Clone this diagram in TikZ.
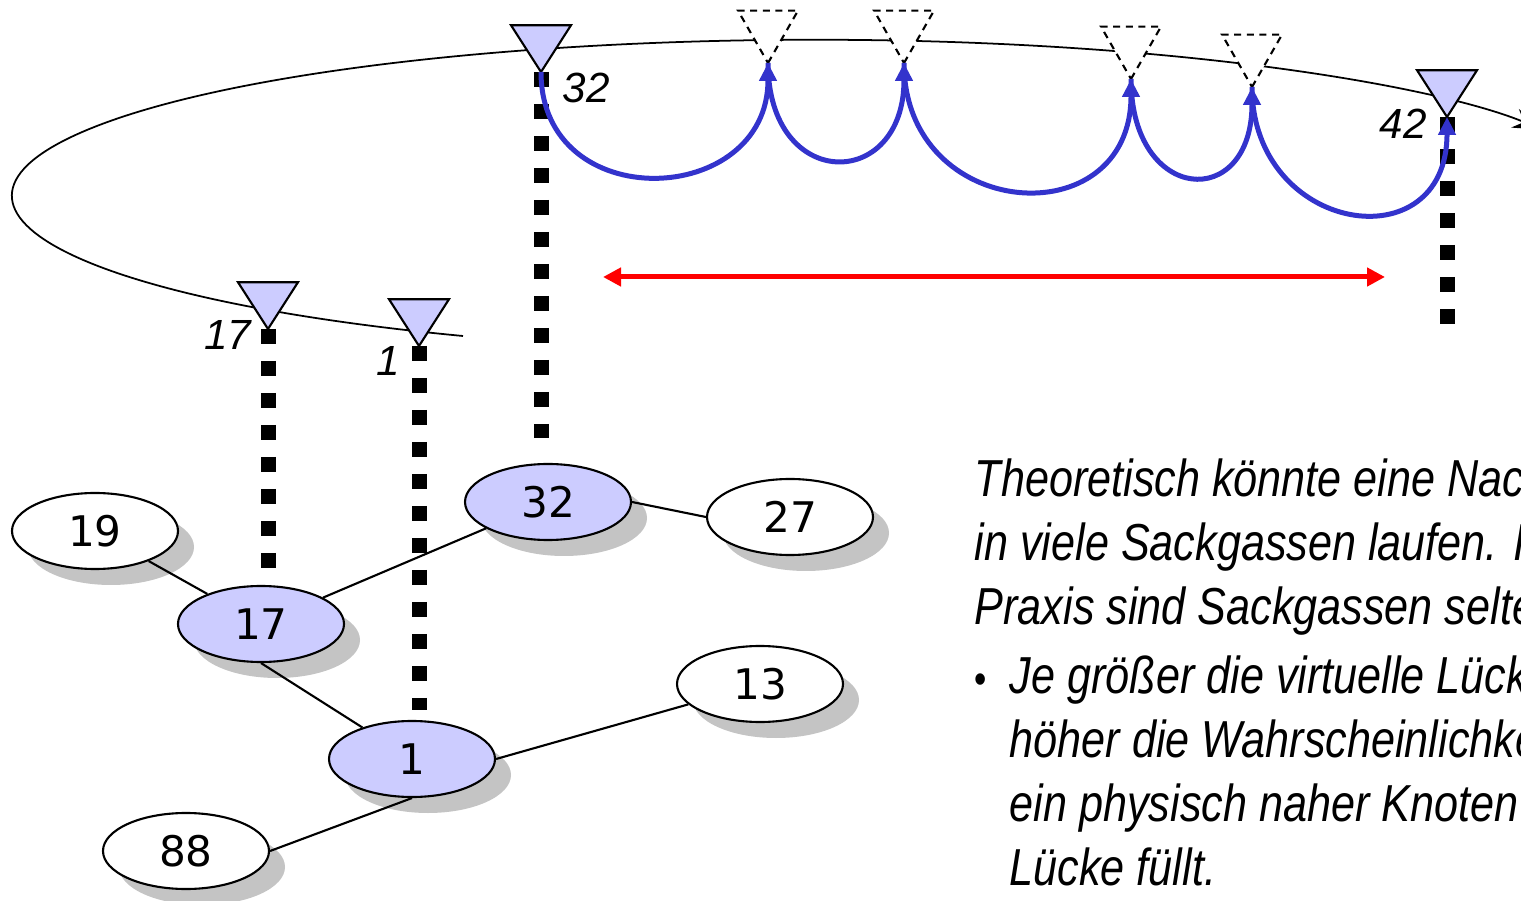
\documentclass[tikz,border=0pt]{standalone}
\usepackage{fontspec}
\usepackage{tikz}
\usetikzlibrary{arrows.meta,positioning,shapes.geometric,shadows}
\newfontfamily\numfont{DejaVu Sans}
\newfontfamily\labfont{Liberation Sans}
\newfontfamily\notefont[FakeStretch=0.83]{Liberation Sans}
\definecolor{Lavender}{HTML}{CCCCFF}
\definecolor{Route}{HTML}{3333CC}
\definecolor{Gap}{HTML}{FF0000}
\definecolor{Shade}{HTML}{C4C4C4}

\begin{document}
\begin{tikzpicture}[x=0.1mm,y=-0.1mm,
  peer/.style={ellipse,draw,fill=white,line width=0.6pt,minimum width=16.6mm,minimum height=7.6mm,inner sep=0pt,
    font=\numfont\fontsize{12}{14}\selectfont,
    drop shadow={shadow xshift=1.6mm,shadow yshift=-1.6mm,fill=Shade,opacity=1}},
  hot/.style={peer,fill=Lavender},
  tri/.style={regular polygon,regular polygon sides=3,shape border rotate=180,minimum size=6.93mm,
    inner sep=0pt,outer sep=0pt,yscale=0.9,draw,line width=0.6pt,fill=Lavender,anchor=corner 1},
  ghost/.style={tri,yscale=1.12,fill=white,dash pattern=on 2pt off 1.6pt},
  hop/.style={line width=1.5mm,dash pattern=on 1.5mm off 1.7mm},
  route/.style={Route,line width=0.5mm,-{Triangle[length=1.8mm,width=1.7mm]}},
  idlab/.style={font=\labfont\itshape\fontsize{12}{14}\selectfont,inner sep=0pt},
  note/.style={align=left,inner sep=0pt,font=\notefont\itshape\fontsize{14.8}{18.2}\selectfont}]
  \useasboundingbox (0,0) rectangle (1521,901);
  \clip (0,0) rectangle (1521,901);

  % identifier ring
  \draw[line width=0.5pt,-{Stealth[length=3mm,width=2mm]}] (463,336)
    arc[start angle=244,end angle=25,x radius=80.3mm,y radius=15.6mm];

  % physical network
  \node[peer] (n19) at (95,531) {19};
  \node[hot]  (n17) at (261,624) {17};
  \node[hot]  (n32) at (548,502) {32};
  \node[peer] (n27) at (790,517) {27};
  \node[peer] (n13) at (760,684) {13};
  \node[hot]  (n1)  at (412,759) {1};
  \node[peer] (n88) at (186,851) {88};
  \draw[line width=0.6pt] (n19) -- (n17);
  \draw[line width=0.6pt] (n17) -- (n32);
  \draw[line width=0.6pt] (n17.south) -- (n1);
  \draw[line width=0.6pt] (n1.east) -- (n13);
  \draw[line width=0.6pt] (n1.south) -- (n88.east);
  \draw[line width=0.6pt] (n32.east) -- (n27.west);

  % positions on the ring
  \node[tri]   (t17) at (268,329) {};
  \node[tri]   (t1)  at (419,346) {};
  \node[tri]   (t32) at (541,72) {};
  \node[ghost] (d1)  at (768,63) {};
  \node[ghost] (d2)  at (904,63) {};
  \node[ghost] (d3)  at (1131,79) {};
  \node[ghost] (d4)  at (1252,87) {};
  \node[tri]   (t42) at (1447,117) {};
  \node[idlab] (l32) at (586,88) {32};
  \node[idlab] (l42) at (1403,124) {42};
  \node[idlab] (l17) at (228,335) {17};
  \node[idlab] (l1)  at (388,361) {1};

  \coordinate (e17) at (268,568);
  \coordinate (e1)  at (419,710);
  \coordinate (e32) at (541,438);
  \coordinate (e42) at (1447,325);
  \draw[hop] (t17.corner 1) -- (e17);
  \draw[hop] (t1.corner 1) -- (e1);
  \draw[hop] (t32.corner 1) -- (e32);
  \draw[hop] (t42.corner 1) -- (e42);

  % routing hops
  \draw[route] (t32.corner 1) .. controls +(0,145) and +(0,145) .. (d1.corner 1);
  \draw[route] (d1.corner 1) .. controls +(0,129) and +(0,129) .. (d2.corner 1);
  \draw[route] (d2.corner 1) .. controls +(0,159) and +(0,159) .. (d3.corner 1);
  \draw[route] (d3.corner 1) .. controls +(0,125) and +(0,125) .. (d4.corner 1);
  \draw[route] (d4.corner 1) .. controls +(0,147) and +(0,147) .. (t42.corner 1);

  % virtual gap
  \coordinate (ga) at (603,277);
  \coordinate (gb) at (1385,277);
  \draw[Gap,line width=0.5mm,{Triangle[length=1.8mm,width=1.8mm]}-{Triangle[length=1.8mm,width=1.8mm]}] (ga) -- (gb);

  \node[note,anchor=north west] (txt) at (974,458)
  {Theoretisch könnte eine Nachricht\\in viele Sackgassen laufen. In der\\Praxis sind Sackgassen selten.\\[0.5mm]
   \makebox[3.5mm][l]{\upshape\fontsize{12}{12}\selectfont\textbullet}Je größer die virtuelle Lücke, desto\\
   \hspace*{3.5mm}höher die Wahrscheinlichkeit, dass\\
   \hspace*{3.5mm}ein physisch naher Knoten die\\
   \hspace*{3.5mm}Lücke füllt.};
\end{tikzpicture}
\end{document}
